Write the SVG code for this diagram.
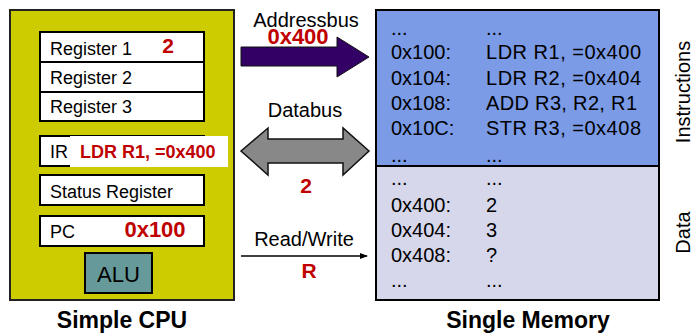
<svg xmlns="http://www.w3.org/2000/svg" width="692" height="334" viewBox="0 0 692 334">
  <style>
    text { font-family: "Liberation Sans", Arial, sans-serif; fill: #000; }
    .reg { fill: #fff; stroke: #000; stroke-width: 2; }
    .lbl { font-size: 18px; }
    .val { font-weight: bold; fill: #c00000; }
    .mem { font-size: 20px; }
    .bus { font-size: 20px; text-anchor: middle; }
    .title { font-size: 23px; font-weight: bold; text-anchor: middle; }
  </style>
  <defs>
    <marker id="rwHead" markerWidth="8" markerHeight="6" refX="7" refY="3" orient="auto" markerUnits="userSpaceOnUse">
      <path d="M0,0 L8,3 L0,6 Z" fill="#000"/>
    </marker>
  </defs>

  <!-- CPU -->
  <g id="cpu">
    <rect x="10" y="10" width="224" height="290" fill="#cccc00" stroke="#222" stroke-width="2"/>
    <text class="title" x="122" y="328">Simple CPU</text>
  </g>
  <g id="register1">
    <rect class="reg" x="40" y="32" width="164" height="30"/>
    <text class="lbl" x="50" y="55">Register 1</text>
    <text class="val" x="168" y="53" font-size="21" text-anchor="middle">2</text>
  </g>
  <g id="register2">
    <rect class="reg" x="40" y="62" width="164" height="30"/>
    <text class="lbl" x="50" y="84">Register 2</text>
  </g>
  <g id="register3">
    <rect class="reg" x="40" y="92" width="164" height="29"/>
    <text class="lbl" x="50" y="113">Register 3</text>
  </g>
  <g id="ir">
    <rect class="reg" x="40" y="136" width="164" height="30"/>
    <text class="lbl" x="50" y="158">IR</text>
    <rect x="70" y="136" width="158" height="31" fill="#fff"/>
    <text class="val" x="80" y="158" font-size="18">LDR R1, =0x400</text>
  </g>
  <g id="status">
    <rect class="reg" x="40" y="175" width="164" height="30"/>
    <text class="lbl" x="50" y="198">Status Register</text>
  </g>
  <g id="pc">
    <rect class="reg" x="40" y="216" width="164" height="30"/>
    <text class="lbl" x="50" y="238">PC</text>
    <text class="val" x="155" y="237" font-size="22" text-anchor="middle">0x100</text>
  </g>
  <g id="alu">
    <rect x="85" y="253" width="67" height="40" fill="#669999" stroke="#000" stroke-width="2"/>
    <text x="118.5" y="282" font-size="22" text-anchor="middle">ALU</text>
  </g>

  <!-- Memory: instruction area above, data area below -->
  <g id="memory">
    <rect x="376" y="10" width="283" height="156" fill="#7b9be6" stroke="#000" stroke-width="2"/>
    <rect x="376" y="166" width="283" height="134" fill="#d7d7ec" stroke="#000" stroke-width="2"/>
    <g class="mem">
      <text x="391" y="35">...</text><text x="486" y="35">...</text>
      <text x="391" y="59">0x100:</text><text x="486" y="59" textLength="155">LDR R1, =0x400</text>
      <text x="391" y="85">0x104:</text><text x="486" y="85" textLength="155">LDR R2, =0x404</text>
      <text x="391" y="110">0x108:</text><text x="486" y="110" textLength="151">ADD R3, R2, R1</text>
      <text x="391" y="135">0x10C:</text><text x="486" y="135" textLength="155">STR R3, =0x408</text>
      <text x="391" y="162">...</text><text x="486" y="162">...</text>
      <text x="391" y="185">...</text><text x="486" y="185">...</text>
      <text x="391" y="212">0x400:</text><text x="486" y="212">2</text>
      <text x="391" y="237">0x404:</text><text x="486" y="237">3</text>
      <text x="391" y="262">0x408:</text><text x="486" y="262">?</text>
      <text x="391" y="287">...</text><text x="486" y="287">...</text>
    </g>
    <text class="bus" transform="translate(690,92) rotate(-90)">Instructions</text>
    <text class="bus" transform="translate(690,232.5) rotate(-90)">Data</text>
    <text class="title" x="528" y="328">Single Memory</text>
  </g>

  <!-- Buses -->
  <g id="connectors">
    <g id="addressbus">
      <text class="bus" x="306" y="27">Addressbus</text>
      <polygon points="241,47 337,47 337,37 369,57 337,77 337,66 241,66" fill="#330066" stroke="#111" stroke-width="1"/>
      <text class="val" x="298" y="44" font-size="22" text-anchor="middle">0x400</text>
    </g>
    <g id="databus">
      <text class="bus" x="305" y="117">Databus</text>
      <polygon points="241,151 268,128 268,139 343,139 343,128 369,151 343,175 343,163 268,163 268,175" fill="#888" stroke="#111" stroke-width="1.5"/>
      <text class="val" x="306" y="193" font-size="21" text-anchor="middle">2</text>
    </g>
    <g id="readwrite">
      <text class="bus" x="304" y="246">Read/Write</text>
      <line x1="241" y1="256" x2="367" y2="256" stroke="#000" stroke-width="1.5" marker-end="url(#rwHead)"/>
      <text class="val" x="309" y="278" font-size="21" text-anchor="middle">R</text>
    </g>
  </g>
</svg>
